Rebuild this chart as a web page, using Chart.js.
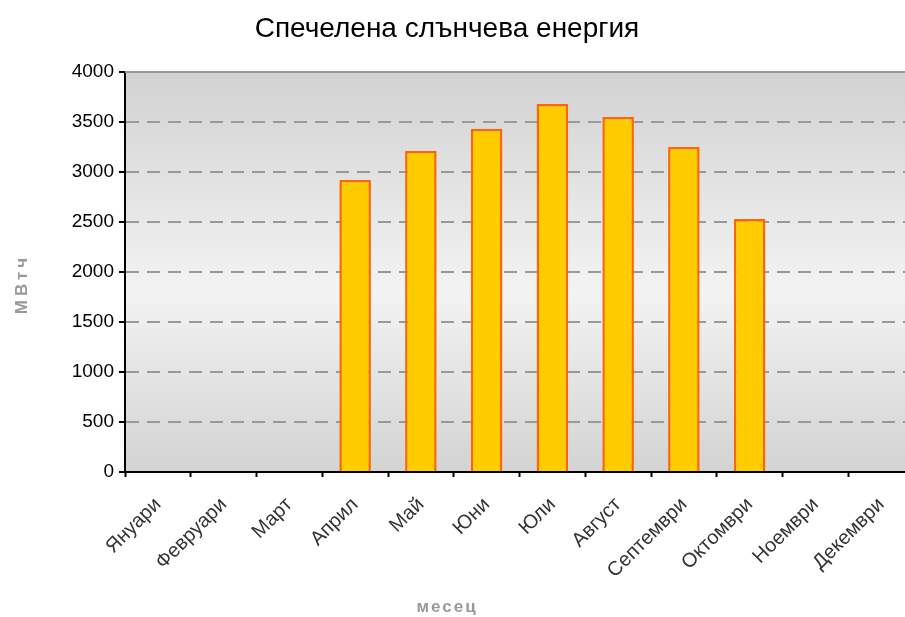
<!DOCTYPE html>
<html lang="bg">
<head>
    <meta charset="UTF-8">
    <title>Спечелена слънчева енергия</title>
    <script src="https://cdn.jsdelivr.net/npm/chart.js"></script>
    <style>
        html, body { margin: 0; padding: 0; background: #fff; overflow: hidden; }
        #wrap { position: relative; width: 930px; height: 617px; }
    </style>
</head>
<body>
<div id="wrap"><canvas id="energyChart"></canvas></div>
<script>
// данни
const months = ['Януари', 'Февруари', 'Март', 'Април', 'Май', 'Юни', 'Юли',
                'Август', 'Септември', 'Октомври', 'Ноември', 'Декември'];
const energy = [null, null, null, 2920, 3210, 3430, 3680, 3550, 3250, 2530, null, null];
const yTicks = [0, 500, 1000, 1500, 2000, 2500, 3000, 3500, 4000];

const chartTitle = 'Спечелена слънчева енергия';
const xTitle = 'месец';
const yTitle = 'МВтч';

const FONT = '"Liberation Sans", Arial, sans-serif';

// фон на графиката (градиент) + горна рамка + заглавия
const plotBackground = {
    id: 'plotBackground',
    beforeDraw(chart) {
        const { ctx, chartArea: a } = chart;
        const g = ctx.createLinearGradient(0, a.top, 0, a.bottom);
        g.addColorStop(0, '#d2d2d2');
        g.addColorStop(0.55, '#f3f3f3');
        g.addColorStop(1, '#d3d3d3');
        ctx.save();
        ctx.fillStyle = g;
        ctx.fillRect(a.left, a.top, a.right - a.left, a.bottom - a.top);
        ctx.restore();
    },
    afterDraw(chart) {
        const { ctx, chartArea: a } = chart;
        ctx.save();
        ctx.strokeStyle = '#999';
        ctx.lineWidth = 2;
        ctx.beginPath();
        ctx.moveTo(a.left, a.top);
        ctx.lineTo(a.right, a.top);
        ctx.stroke();

        ctx.fillStyle = '#000';
        ctx.font = '28px ' + FONT;
        ctx.textAlign = 'center';
        ctx.textBaseline = 'middle';
        ctx.fillText(chartTitle, 447, 29);

        ctx.fillStyle = '#999';
        ctx.font = 'bold 17px ' + FONT;
        ctx.letterSpacing = '2px';
        ctx.fillText(xTitle, 447, 607);
        ctx.letterSpacing = '4px';
        ctx.translate(22, 284);
        ctx.rotate(-Math.PI / 2);
        ctx.fillText(yTitle, 0, 0);
        ctx.restore();
    }
};

const ctx = document.getElementById('energyChart').getContext('2d');
new Chart(ctx, {
    type: 'bar',
    data: {
        labels: months,
        datasets: [{
            data: energy,
            backgroundColor: '#ffcc00',
            borderColor: '#ff6600',
            borderWidth: 2.5,
            categoryPercentage: 1,
            barPercentage: 0.48
        }]
    },
    options: {
        responsive: true,
        maintainAspectRatio: false,
        animation: false,
        layout: { padding: { top: 72, right: 16, left: 0, bottom: 0 } },
        plugins: {
            legend: { display: false },
            tooltip: { enabled: false },
            title: { display: false }
        },
        scales: {
            x: {
                offset: true,
                grid: {
                    offset: true,
                    drawOnChartArea: false,
                    tickLength: 5,
                    tickColor: '#000',
                    tickWidth: 2
                },
                border: { color: '#000', width: 2 },
                ticks: {
                    color: '#333',
                    font: { family: FONT, size: 20 },
                    minRotation: 45,
                    maxRotation: 45,
                    padding: 16
                },
                afterFit(scale) { scale.height = 145; }
            },
            y: {
                min: 0,
                max: 4000,
                afterBuildTicks(scale) { scale.ticks = yTicks.map(v => ({ value: v })); },
                grid: {
                    color: '#999',
                    lineWidth: 2,
                    tickLength: 6,
                    tickColor: '#000',
                    tickWidth: 2
                },
                border: { color: '#000', width: 2, dash: [13, 8] },
                ticks: {
                    color: '#000',
                    font: { family: FONT, size: 19 },
                    padding: 5,
                    callback: v => String(v)
                },
                afterFit(scale) { scale.width = 125; }
            }
        }
    },
    plugins: [plotBackground]
});
</script>
</body>
</html>
